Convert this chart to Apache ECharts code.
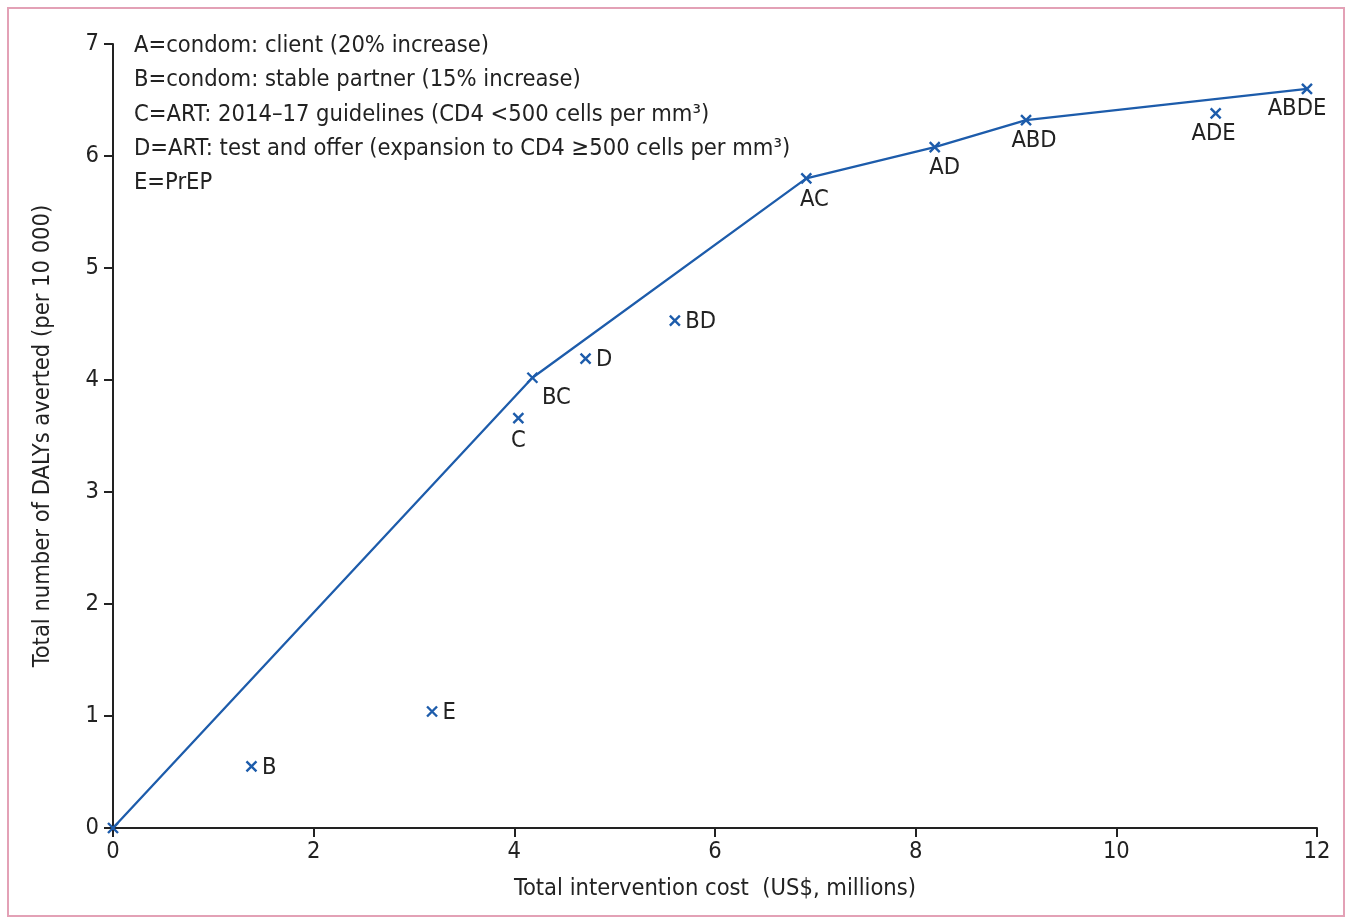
<!DOCTYPE html>
<html>
<head>
<meta charset="utf-8">
<script src="https://cdn.jsdelivr.net/npm/echarts@6/dist/echarts.min.js"></script>
<style>
html,body{margin:0;padding:0;background:#fff;}
#frame{position:absolute;left:7px;top:7px;width:1338px;height:910px;border:2px solid #e3a1b6;box-sizing:border-box;}
#chart{position:absolute;left:0;top:0;width:1352px;height:923px;}
</style>
</head>
<body>
<div id="frame"></div>
<div id="chart"></div>
<script>
// ---- data ----
const pointNames = ['O', 'B', 'E', 'C', 'BC', 'D', 'BD', 'AC', 'AD', 'ABD', 'ADE', 'ABDE'];
const costs      = [0, 1.38, 3.18, 4.04, 4.18, 4.71, 5.60, 6.91, 8.19, 9.10, 10.99, 11.90];
const dalys      = [0, 0.55, 1.04, 3.66, 4.02, 4.19, 4.53, 5.80, 6.08, 6.32, 6.38, 6.60];
const frontier   = ['O', 'BC', 'AC', 'AD', 'ABD', 'ABDE'];
const legendLines = [
  'A=condom: client (20% increase)',
  'B=condom: stable partner (15% increase)',
  'C=ART: 2014–17 guidelines (CD4 <500 cells per mm³)',
  'D=ART: test and offer (expansion to CD4 ≥500 cells per mm³)',
  'E=PrEP'
];
const xTicks = [0, 2, 4, 6, 8, 10, 12];
const yTicks = [0, 1, 2, 3, 4, 5, 6, 7];

// ---- styling ----
const FONT = '"DejaVu Sans Condensed", "Liberation Sans Narrow", "Noto Sans", sans-serif';
const BLUE = '#1d5cab';
const INK = '#222222';
const FS = 23.5;
const labelStyle = {
  O:    null,
  B:    {position: 'right', offset: [0, 1]},
  E:    {position: 'right', offset: [0, 1]},
  C:    {position: 'bottom', offset: [0, 0]},
  BC:   {position: 'bottom', offset: [24, -2]},
  D:    {position: 'right', offset: [0, 1]},
  BD:   {position: 'right', offset: [0, 1]},
  AC:   {position: 'bottom', offset: [8, -1]},
  AD:   {position: 'bottom', offset: [10, -2]},
  ABD:  {position: 'bottom', offset: [8, -2]},
  ADE:  {position: 'bottom', offset: [-2, -2]},
  ABDE: {position: 'bottom', offset: [-10, -2]}
};

const idx = Object.fromEntries(pointNames.map((n, i) => [n, i]));
const scatterData = pointNames.map((n, i) => {
  const ls = labelStyle[n];
  return {
    name: n,
    value: [costs[i], dalys[i]],
    label: ls ? {show: true, position: ls.position, offset: ls.offset, distance: 3,
                 formatter: n, color: INK, fontSize: FS, fontFamily: FONT} : {show: false}
  };
});
const lineData = frontier.map(n => [costs[idx[n]], dalys[idx[n]]]);

const chart = echarts.init(document.getElementById('chart'));
chart.setOption({
  animation: false,
  backgroundColor: 'transparent',
  grid: {left: 113, right: 35, top: 44, bottom: 95, containLabel: false},
  xAxis: {
    type: 'value', min: xTicks[0], max: xTicks[xTicks.length - 1], interval: 2,
    name: 'Total intervention cost  (US$, millions)', nameLocation: 'middle', nameGap: 49,
    nameTextStyle: {fontSize: FS, color: INK, fontFamily: FONT},
    axisLine: {show: true, lineStyle: {color: INK, width: 2}},
    axisTick: {show: true, length: 9, lineStyle: {color: INK, width: 2}},
    axisLabel: {fontSize: FS, color: INK, fontFamily: FONT, margin: 12},
    splitLine: {show: false}
  },
  yAxis: {
    type: 'value', min: yTicks[0], max: yTicks[yTicks.length - 1], interval: 1,
    name: 'Total number of DALYs averted (per 10 000)', nameLocation: 'middle', nameGap: 58,
    nameTextStyle: {fontSize: FS, color: INK, fontFamily: FONT},
    axisLine: {show: true, lineStyle: {color: INK, width: 2}},
    axisTick: {show: true, length: 9, lineStyle: {color: INK, width: 2}},
    axisLabel: {fontSize: FS, color: INK, fontFamily: FONT, margin: 14},
    splitLine: {show: false}
  },
  graphic: legendLines.map((t, i) => ({
    type: 'text', left: 134, top: 34 + i * 34.3,
    style: {text: t, fontSize: FS, fill: INK, fontFamily: FONT}
  })),
  series: [
    {
      type: 'line', data: lineData, symbol: 'none',
      lineStyle: {color: BLUE, width: 2.3}, z: 2
    },
    {
      type: 'scatter', data: scatterData,
      symbol: 'path://M0,0L10,10M10,0L0,10', symbolSize: 10,
      itemStyle: {color: 'none', borderColor: BLUE, borderWidth: 2.4, opacity: 1},
      z: 3
    }
  ]
});
</script>
</body>
</html>
